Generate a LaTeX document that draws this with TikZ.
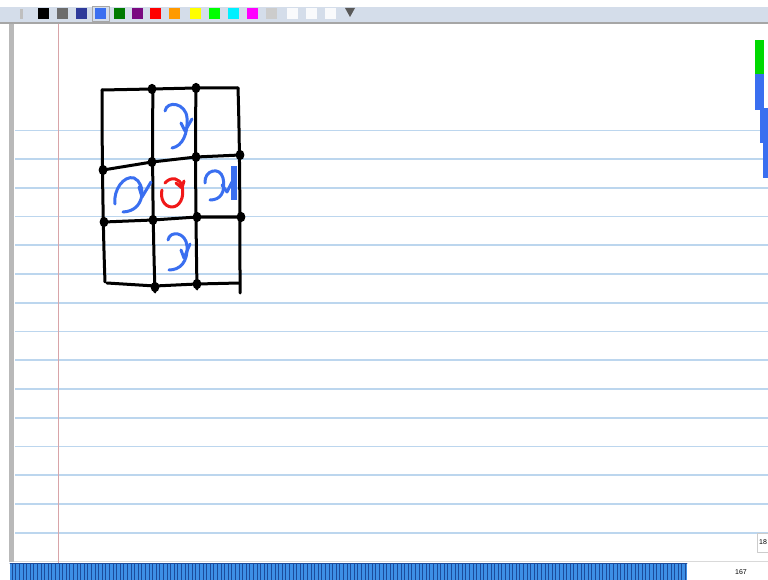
\documentclass[tikz,border=0pt]{standalone}
\usepackage{fontspec}
\setmainfont{Liberation Sans}
\definecolor{rulec}{HTML}{BCD6EE}
\definecolor{pen}{HTML}{3A6FF0}
\definecolor{rpen}{HTML}{F01818}
\definecolor{tbar}{HTML}{D4DDEA}
\definecolor{marg}{HTML}{D8A4A8}
\definecolor{stripe}{HTML}{3D8FE6}
\definecolor{stripedk}{HTML}{1C4C9C}
\definecolor{navy}{HTML}{2E3A9A}
\definecolor{cyanc}{HTML}{00F0FF}
\definecolor{magc}{HTML}{FF00FF}
\definecolor{grnc}{HTML}{00FF00}
\definecolor{dgrn}{HTML}{007A00}
\definecolor{purp}{HTML}{7A0A80}
\definecolor{orng}{HTML}{FF9A00}
\definecolor{yelc}{HTML}{FFFF00}
\tikzset{
  ink/.style={line width=3pt, black},
  bpen/.style={line width=3pt, pen},
  redpen/.style={line width=3pt, rpen},
}
\begin{document}
\begin{tikzpicture}[x=1pt,y=-1pt,line cap=round,line join=round]
\useasboundingbox (0,0) rectangle (768,580);
\fill[white] (0,0) rectangle (768,580);
% toolbar
\fill[tbar] (0,7) rectangle (768,22);
\fill[gray!70] (0,22) rectangle (768,24);
\fill[gray!50] (20,9) rectangle (23,19);
\draw[gray!70, line width=0.4pt] (92,6.5) rectangle (109,21);
\foreach \x/\c in {38/black,57/gray!85!black,76/navy,95/pen,114/dgrn,132/purp,150/red,169/orng,190/yelc,209/grnc,228/cyanc,247/magc,266/gray!40}
  \fill[\c] (\x,8) rectangle (\x+11,19);
\foreach \x in {287,306,325}
  \fill[white!85!tbar] (\x,8) rectangle (\x+11,19);
\fill[gray!70!black] (345,8) -- (355,8) -- (350,17) -- cycle;
% page
\fill[gray!55] (9,24) rectangle (14,562);
\draw[gray!30, line width=0.5pt] (14,561) -- (768,561);
\foreach \y in {130.5,159,188,216.5,245,274,303,331.5,360,389,418,446.5,475,504,533}
  \draw[rulec, line width=1.2pt, line cap=butt] (15,\y) -- (768,\y);
\draw[marg, line width=0.8pt] (58,24) -- (58,580);
% bottom bar
\fill[stripe] (10,563) rectangle (687,580);
\draw[stripedk, line width=0.6pt] (10,563) -- (687,563);
\foreach \x in {12,15.6,...,686}
  \draw[stripedk, line width=0.5pt, line cap=butt] (\x,563) -- (\x,580);
\node[font=\fontsize{7}{8}\selectfont, anchor=center] (pg) at (741,572) {167};
\draw[gray!40, fill=white] (757,533) rectangle (769,552);
\node[font=\fontsize{7}{8}\selectfont, anchor=west, inner sep=0pt] (pg2) at (759,542) {18};
% right edge bars
\fill[grnc!85!black] (755,40) rectangle (764,74);
\fill[pen] (755,74) rectangle (764,110);
\fill[pen] (760,108) rectangle (768,143);
\fill[pen] (763,143) rectangle (768,178);
% grid
\draw[ink] (102,90) -- (152,89) -- (196,88) -- (238,88);
\draw[ink] (103,170) -- (152,162) -- (196,157) -- (240,155);
\draw[ink] (104,222) -- (153,220) -- (197,217) -- (241,217);
\draw[ink] (107,283) -- (155,286) -- (197,284) -- (239,283);
\draw[ink] (102,90) .. controls (102,150) and (103,230) .. (105,282);
\draw[ink] (153,88) .. controls (152,150) and (153,230) .. (155,292);
\draw[ink] (196,86) .. controls (195,150) and (196,230) .. (197,289);
\draw[ink] (238,88) .. controls (240,150) and (240,230) .. (240,293);
\foreach \p in {(152,89),(196,88),(103,170),(152,162),(196,157),(240,155),(104,222),(153,220),(197,217),(241,217),(155,287),(197,284)}
  \fill \p ellipse (4.4 and 5.2);
% blue arrows
\draw[bpen] (165,111) .. controls (167,100) and (186,103) .. (187,118) .. controls (188,133) and (183,146) .. (172,148);
\draw[bpen] (181,123) -- (185,131) -- (192,119);
\draw[bpen] (115,204) .. controls (113,190) and (124,175) .. (134,178) .. controls (146,183) and (146,211) .. (123,212);
\draw[bpen] (139,187) -- (142,197) -- (151,182);
\draw[bpen] (205,183) .. controls (204,170) and (220,166) .. (223,178) .. controls (226,193) and (220,200) .. (210,200);
\draw[bpen] (222,185) -- (227,192) -- (232,182);
\fill[pen] (231,166) rectangle (237,200);
\draw[bpen] (168,240) .. controls (170,230) and (186,232) .. (187,246) .. controls (188,262) and (180,270) .. (169,270);
\draw[bpen] (181,250) -- (184,258) -- (190,244);
% red circle
\draw[redpen] (165,183) .. controls (171,176) and (180,178) .. (182,186) .. controls (185,198) and (179,207) .. (172,207) .. controls (164,207) and (160,198) .. (162,190);
\draw[redpen] (176,183) -- (182,188) -- (184,181);
\end{tikzpicture}
\end{document}
